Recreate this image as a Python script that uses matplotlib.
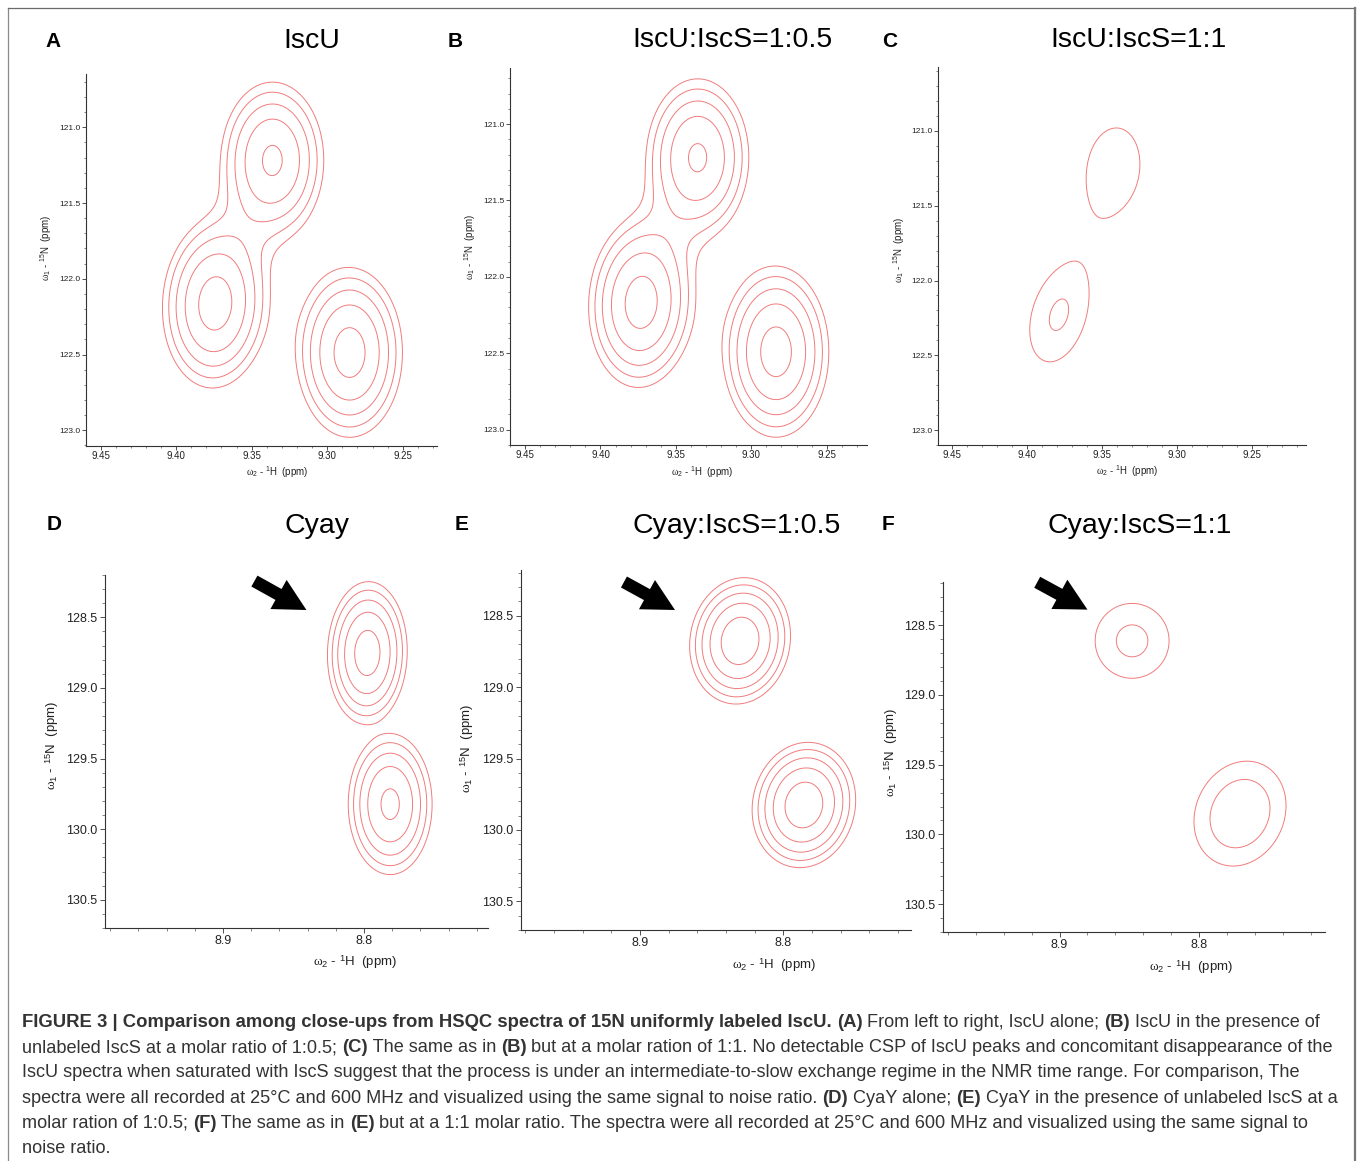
import numpy as np
import matplotlib
matplotlib.use('Agg')
import matplotlib.pyplot as plt
from matplotlib.ticker import MultipleLocator, FixedLocator, FormatStrFormatter
from matplotlib.lines import Line2D

plt.rcParams['font.family'] = ['Liberation Sans', 'DejaVu Sans']
plt.rcParams['mathtext.fontset'] = 'custom'
plt.rcParams['mathtext.rm'] = 'Liberation Sans'
plt.rcParams['mathtext.it'] = 'Liberation Serif'
plt.rcParams['mathtext.bf'] = 'Liberation Sans:bold'

W, H = 1358, 1161

# ---------------- data ----------------
panel_labels = ['A', 'B', 'C', 'D', 'E', 'F']
titles = ['IscU', 'IscU:IscS=1:0.5', 'IscU:IscS=1:1',
          'Cyay', 'Cyay:IscS=1:0.5', 'Cyay:IscS=1:1']

# contour levels (IscU spectra and CyaY spectra)
levels_iscu = [1.0, 1.4, 1.96, 2.744, 3.842]
levels_cyay = [1.0, 3.0, 9.0, 27.0, 81.0]

top_x_ticks = [9.45, 9.40, 9.35, 9.30, 9.25]
top_y_ticks = [121.0, 121.5, 122.0, 122.5, 123.0]
bot_x_ticks = [8.9, 8.8]
bot_y_ticks = [128.5, 129.0, 129.5, 130.0, 130.5]

# peak tables: 1H shift, 15N shift, 1H width, 15N width, height, tilt
A_H = [9.3362, 9.3742, 9.2852]
A_N = [121.216, 122.165, 122.487]
A_sH = [0.0203, 0.0202, 0.0204]
A_sN = [0.308, 0.322, 0.326]
A_amp = [4.03, 4.44, 4.36]
A_rho = [0.0, 0.05, 0.0]

B_H = [9.3355, 9.3731, 9.2836]
B_N = [121.217, 122.169, 122.490]
B_sH = [0.0203, 0.0202, 0.0204]
B_sN = [0.308, 0.322, 0.326]
B_amp = [4.00, 4.40, 4.35]
B_rho = [0.0, 0.05, 0.0]

C_H = [9.3420, 9.3790]
C_N = [121.245, 122.238]
C_sH = [0.0228, 0.0222]
C_sN = [0.350, 0.355]
C_amp = [1.33, 1.448]
C_rho = [0.1, 0.3]

D_H = [8.7976, 8.7814]
D_N = [128.752, 129.823]
D_sH = [0.00905, 0.00979]
D_sN = [0.1615, 0.1642]
D_amp = [132.3, 100.9]
D_rho = [0.03, 0.0]

E_H = [8.8302, 8.7857]
E_N = [128.676, 129.825]
E_sH = [0.0110, 0.01134]
E_sN = [0.1383, 0.1377]
E_amp = [165.8, 158.8]
E_rho = [0.08, 0.08]

F_H = [8.8480, 8.7707]
F_N = [128.612, 129.851]
F_sH = [0.01615, 0.01687]
F_sN = [0.1637, 0.1924]
F_amp = [3.83, 6.75]
F_rho = [0.0, 0.15]

# arrows (tail, tip) in ppm for D, E, F
arrow_tail = {'D': (8.8777, 128.243), 'E': (8.9112, 128.264), 'F': (8.916, 128.192)}
arrow_tip = {'D': (8.8408, 128.448), 'E': (8.8756, 128.460), 'F': (8.880, 128.388)}

caption_lines = [
    [("FIGURE 3 | Comparison among close-ups from HSQC spectra of 15N uniformly labeled IscU.", True),
     (" ", False), ("(A)", True), (" From left to right, IscU alone; ", False), ("(B)", True),
     (" IscU in the presence of", False)],
    [("unlabeled IscS at a molar ratio of 1:0.5; ", False), ("(C)", True), (" The same as in ", False),
     ("(B)", True), (" but at a molar ration of 1:1. No detectable CSP of IscU peaks and concomitant disappearance of the", False)],
    [("IscU spectra when saturated with IscS suggest that the process is under an intermediate-to-slow exchange regime in the NMR time range. For comparison, The", False)],
    [("spectra were all recorded at 25\u00b0C and 600 MHz and visualized using the same signal to noise ratio. ", False),
     ("(D)", True), (" CyaY alone; ", False), ("(E)", True), (" CyaY in the presence of unlabeled IscS at a", False)],
    [("molar ration of 1:0.5; ", False), ("(F)", True), (" The same as in ", False), ("(E)", True),
     (" but at a 1:1 molar ratio. The spectra were all recorded at 25\u00b0C and 600 MHz and visualized using the same signal to", False)],
    [("noise ratio.", False)],
]

peaks = {
    'A': (A_H, A_N, A_sH, A_sN, A_amp, A_rho),
    'B': (B_H, B_N, B_sH, B_sN, B_amp, B_rho),
    'C': (C_H, C_N, C_sH, C_sN, C_amp, C_rho),
    'D': (D_H, D_N, D_sH, D_sN, D_amp, D_rho),
    'E': (E_H, E_N, E_sH, E_sN, E_amp, E_rho),
    'F': (F_H, F_N, F_sH, F_sN, F_amp, F_rho),
}

# ---------------- layout (pixels) ----------------
layout = {
    'A': dict(box=(86, 437, 74, 446), xlim=(9.4597, 9.2273), ylim=(123.104, 120.648),
              title=(311.5, 47.5), lab=(45.5, 46.7), xl=(277, 472), yl=(46.7, 248)),
    'B': dict(box=(510, 867, 68, 445), xlim=(9.4600, 9.2233), ylim=(123.100, 120.633),
              title=(732.5, 47.0), lab=(448, 47.0), xl=(702, 472), yl=(470, 247)),
    'C': dict(box=(938, 1306, 67, 445), xlim=(9.4594, 9.2137), ylim=(123.100, 120.572),
              title=(1138.5, 47.0), lab=(882, 47.0), xl=(1127, 471), yl=(899, 250)),
    'D': dict(box=(105, 488, 575, 928), xlim=(8.9837, 8.7120), ylim=(130.70, 128.20),
              title=(317.5, 533), lab=(47, 530), xl=(355, 962), yl=(52.5, 745)),
    'E': dict(box=(521, 911, 570, 930), xlim=(8.9830, 8.7110), ylim=(130.70, 128.18),
              title=(736.5, 533), lab=(455, 530), xl=(774, 965), yl=(467.5, 748)),
    'F': dict(box=(943, 1325, 582, 932), xlim=(8.9835, 8.7098), ylim=(130.70, 128.19),
              title=(1139.5, 533), lab=(882, 530), xl=(1191, 967), yl=(891.5, 752)),
}

contour_color = '#f07c7c'
axis_color = '#333333'


def fx(px):
    return px / W


def fy(py):
    return 1 - py / H


def spectrum(X, Y, hs, ns, shs, sns, amps, rhos):
    Z = np.zeros_like(X)
    for h, n, sh, sn, a, r in zip(hs, ns, shs, sns, amps, rhos):
        u = (X - h) / sh
        v = (Y - n) / sn
        Z += a * np.exp(-(u * u - 2 * r * u * v + v * v) / (2 * (1 - r * r)))
    return Z


fig = plt.figure(figsize=(W / 100, H / 100), dpi=100)
fig.patch.set_facecolor('white')

for key in panel_labels:
    L = layout[key]
    l, r, t, b = L['box']
    ax = fig.add_axes([fx(l), fy(b), (r - l) / W, (b - t) / H])
    top = key in ('A', 'B', 'C')
    xs = np.linspace(min(L['xlim']), max(L['xlim']), 600)
    ys = np.linspace(min(L['ylim']), max(L['ylim']), 600)
    X, Y = np.meshgrid(xs, ys)
    Z = spectrum(X, Y, *peaks[key])
    ax.contour(X, Y, Z, levels=levels_iscu if top else levels_cyay,
               colors=contour_color, linewidths=0.7)
    ax.set_xlim(*L['xlim'])
    ax.set_ylim(*L['ylim'])
    for s in ('top', 'right'):
        ax.spines[s].set_visible(False)
    for s in ('left', 'bottom'):
        ax.spines[s].set_color(axis_color)
        ax.spines[s].set_linewidth(0.8)
    if top:
        ax.xaxis.set_major_locator(FixedLocator(top_x_ticks))
        ax.xaxis.set_minor_locator(MultipleLocator(0.01))
        ax.yaxis.set_major_locator(FixedLocator(top_y_ticks))
        ax.yaxis.set_minor_locator(MultipleLocator(0.1))
        ax.xaxis.set_major_formatter(FormatStrFormatter('%.2f'))
        ax.yaxis.set_major_formatter(FormatStrFormatter('%.1f'))
        ax.tick_params(axis='x', which='major', labelsize=7, length=2.6, width=0.6, pad=1.0,
                       color=axis_color, labelcolor='#222222')
        ax.tick_params(axis='y', which='major', labelsize=6, length=2.6, width=0.6, pad=1.5,
                       color=axis_color, labelcolor='#222222')
        ax.tick_params(which='minor', length=1.5, width=0.5, color='#555555')
        lab_fs = 7
    else:
        ax.xaxis.set_major_locator(FixedLocator(bot_x_ticks))
        ax.xaxis.set_minor_locator(MultipleLocator(0.02))
        ax.yaxis.set_major_locator(FixedLocator(bot_y_ticks))
        ax.yaxis.set_minor_locator(MultipleLocator(0.1))
        ax.xaxis.set_major_formatter(FormatStrFormatter('%.1f'))
        ax.yaxis.set_major_formatter(FormatStrFormatter('%.1f'))
        ax.tick_params(which='major', labelsize=9, length=3.5, width=0.6, pad=1.8,
                       color=axis_color, labelcolor='#222222')
        ax.tick_params(which='minor', length=2, width=0.5, color='#555555')
        lab_fs = 9.5
    ax.tick_params(which='both', direction='out')
    ax.set_xlabel(r'$\omega_2$ - $^{1}$H  (ppm)', fontsize=lab_fs, color='#222222')
    ax.set_ylabel(r'$\omega_1$ - $^{15}$N  (ppm)', fontsize=lab_fs, color='#222222')
    ax.xaxis.set_label_coords(fx(L['xl'][0]), fy(L['xl'][1]), transform=fig.transFigure)
    ax.yaxis.set_label_coords(fx(L['yl'][0]), fy(L['yl'][1]), transform=fig.transFigure)
    ax.xaxis.label.set_va('center')
    ax.yaxis.label.set_va('center')
    ax.yaxis.label.set_ha('center')

    if key in arrow_tip:
        ax.annotate('', xy=arrow_tip[key], xytext=arrow_tail[key],
                    arrowprops=dict(arrowstyle='simple,head_length=2.3,head_width=2.4,tail_width=0.9',
                                    fc='black', ec='black', lw=0, shrinkA=0, shrinkB=0,
                                    mutation_scale=10),
                    annotation_clip=False)

    fig.text(fx(L['title'][0]), fy(L['title'][1]), titles[panel_labels.index(key)],
             fontsize=20.5, ha='center', va='baseline', color='black')
    fig.text(fx(L['lab'][0]), fy(L['lab'][1]), key, fontsize=15, fontweight='bold',
             ha='left', va='baseline', color='black')

# frame around the figure
fig.add_artist(Line2D([fx(7.5), fx(7.5)], [fy(8), 0], transform=fig.transFigure, color='#8a8a8a', lw=0.9))
fig.add_artist(Line2D([fx(7.5), fx(1355)], [fy(8), fy(8)], transform=fig.transFigure, color='#6a6a6a', lw=0.9))
fig.add_artist(Line2D([fx(1355), fx(1355)], [fy(8), 0], transform=fig.transFigure, color='#777777', lw=1.6))

# ---------------- caption ----------------
renderer = fig.canvas.get_renderer()


def seg_width(s, fs, bold):
    t1 = fig.text(0, 0, '|' + s + '|', fontsize=fs, fontweight='bold' if bold else 'normal')
    t2 = fig.text(0, 0, '||', fontsize=fs, fontweight='bold' if bold else 'normal')
    w = t1.get_window_extent(renderer).width - t2.get_window_extent(renderer).width
    t1.remove()
    t2.remove()
    return w


trial = 12.0
w3 = sum(seg_width(s, trial, b) for s, b in caption_lines[2])
cap_fs = trial * (1301 - 22) / w3
bold_scale = 1.02

cap_x0 = 22
cap_baselines = [1027, 1052.2, 1077.4, 1102.6, 1127.8, 1153]
for line, yb in zip(caption_lines, cap_baselines):
    x = cap_x0
    for s, bold in line:
        fs = cap_fs * (bold_scale if bold else 1.0)
        fig.text(fx(x), fy(yb), s, fontsize=fs, fontweight='bold' if bold else 'normal',
                 ha='left', va='baseline', color='#333333')
        x += seg_width(s, fs, bold)

fig.savefig('out.png', dpi=100, facecolor='white')
